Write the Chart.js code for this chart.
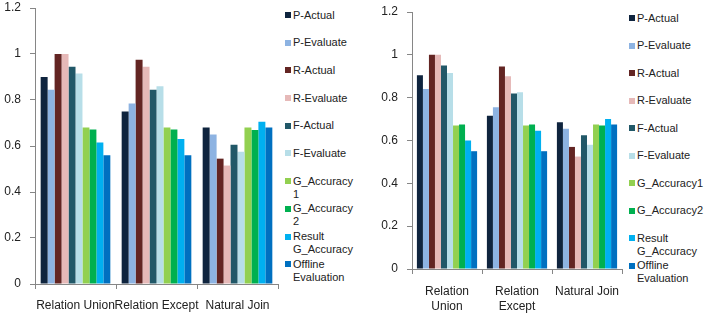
<!DOCTYPE html>
<html>
<head>
<meta charset="utf-8">
<script src="https://cdn.jsdelivr.net/npm/chart.js@4.4.1/dist/chart.umd.min.js"></script>
<style>
body { margin: 0; background: #fff; }
#page { position: relative; width: 709px; height: 317px; overflow: hidden; font-family: "Liberation Sans", Arial, sans-serif; }
canvas { position: absolute; top: 0; }
.legend { position: absolute; margin: 0; padding: 0; list-style: none; font-size: 11px; line-height: 13px; color: #222; }
.legend li { position: relative; padding-left: 8px; overflow-wrap: anywhere; }
.legend li span { position: absolute; left: 0; top: 3.5px; width: 6px; height: 6px; }
</style>
</head>
<body>
<div id="page">
  <canvas id="left-chart" width="280" height="317" style="left:0"></canvas>
  <ul class="legend" id="left-legend" style="left:285px; top:8.5px; width:70px"></ul>
  <canvas id="right-chart" width="272" height="317" style="left:352px"></canvas>
  <ul class="legend" id="right-legend" style="left:629px; top:11.5px; width:80px"></ul>
</div>
<script>
const categories = ['Relation Union', 'Relation Except', 'Natural Join'];
const rightTickLabels = [['Relation', 'Union'], ['Relation', 'Except'], 'Natural Join'];
const yTicks = [0, 0.2, 0.4, 0.6, 0.8, 1, 1.2];

const seriesNames = ['P-Actual', 'P-Evaluate', 'R-Actual', 'R-Evaluate', 'F-Actual', 'F-Evaluate',
    'G_Accuracy1', 'G_Accuracy2', 'Result G_Accuracy', 'Offline Evaluation'];
const seriesColors = ['#0f243e', '#8db3e2', '#632523', '#e6b9b8', '#215868', '#b7dee8',
    '#92d050', '#00b050', '#00b0f0', '#0070c0'];

// left chart
const leftPActual   = [0.90, 0.75, 0.68];
const leftPEvaluate = [0.845, 0.785, 0.65];
const leftRActual   = [1.0, 0.975, 0.545];
const leftREvaluate = [1.0, 0.945, 0.515];
const leftFActual   = [0.945, 0.845, 0.605];
const leftFEvaluate = [0.915, 0.86, 0.575];
const leftGAcc1     = [0.68, 0.68, 0.68];
const leftGAcc2     = [0.672, 0.672, 0.67];
const leftResult    = [0.615, 0.63, 0.705];
const leftOffline   = [0.56, 0.56, 0.68];

// right chart
const rightPActual   = [0.905, 0.715, 0.685];
const rightPEvaluate = [0.84, 0.755, 0.655];
const rightRActual   = [1.0, 0.945, 0.57];
const rightREvaluate = [1.0, 0.9, 0.525];
const rightFActual   = [0.95, 0.82, 0.625];
const rightFEvaluate = [0.915, 0.825, 0.58];
const rightGAcc1     = [0.67, 0.67, 0.675];
const rightGAcc2     = [0.675, 0.675, 0.67];
const rightResult    = [0.60, 0.645, 0.70];
const rightOffline   = [0.55, 0.55, 0.675];

const axisColor = '#868686';
Chart.defaults.font.family = '"Liberation Sans", Arial, sans-serif';
Chart.defaults.font.size = 12;
Chart.defaults.color = '#222';

function noPadding(scale) {
    scale.paddingLeft = 0;
    scale.paddingRight = 0;
    scale.paddingTop = 0;
    scale.paddingBottom = 0;
}

function drawChart(canvasId, legendId, tickLabels, values, box, pitch) {
    const chart = new Chart(document.getElementById(canvasId), {
        type: 'bar',
        data: {
            labels: tickLabels,
            datasets: seriesNames.map((name, i) => ({
                label: name,
                data: values[i],
                backgroundColor: seriesColors[i],
                borderWidth: 0
            }))
        },
        options: {
            responsive: false,
            animation: false,
            layout: { padding: { left: 0, right: box.right, top: box.top, bottom: 0 } },
            datasets: { bar: { barPercentage: 1, categoryPercentage: 0.86 } },
            plugins: { legend: { display: false }, tooltip: { enabled: false } },
            scales: {
                x: {
                    afterFit: s => { s.height = box.axisHeight; noPadding(s); },
                    grid: { drawOnChartArea: false, color: axisColor, tickLength: 5 },
                    border: { color: axisColor },
                    ticks: { maxRotation: 0, minRotation: 0, autoSkip: false, padding: box.xPad,
                        font: { size: 12, lineHeight: 1.25 } }
                },
                y: {
                    min: 0,
                    max: 1.2,
                    afterBuildTicks: axis => { axis.ticks = yTicks.map(v => ({ value: v })); },
                    afterFit: s => { s.width = box.left; noPadding(s); },
                    grid: { drawOnChartArea: false, color: axisColor, tickLength: 5 },
                    border: { color: axisColor },
                    ticks: { padding: 9, callback: v => String(Math.round(v * 10) / 10) }
                }
            }
        }
    });

    // html legend from the chart's own legend items
    const legendEl = document.getElementById(legendId);
    const items = Chart.defaults.plugins.legend.labels.generateLabels(chart);
    items.forEach(item => {
        const li = document.createElement('li');
        li.style.height = pitch + 'px';
        const sq = document.createElement('span');
        sq.style.background = item.fillStyle;
        li.appendChild(sq);
        li.appendChild(document.createTextNode(item.text));
        legendEl.appendChild(li);
    });
}

drawChart('left-chart', 'left-legend', categories,
    [leftPActual, leftPEvaluate, leftRActual, leftREvaluate, leftFActual, leftFEvaluate,
     leftGAcc1, leftGAcc2, leftResult, leftOffline],
    { left: 35, right: 2, top: 8, axisHeight: 33, xPad: 9 }, 27.7);

drawChart('right-chart', 'right-legend', rightTickLabels,
    [rightPActual, rightPEvaluate, rightRActual, rightREvaluate, rightFActual, rightFEvaluate,
     rightGAcc1, rightGAcc2, rightResult, rightOffline],
    { left: 60, right: 2, top: 12, axisHeight: 48, xPad: 10 }, 27.5);
</script>
</body>
</html>
